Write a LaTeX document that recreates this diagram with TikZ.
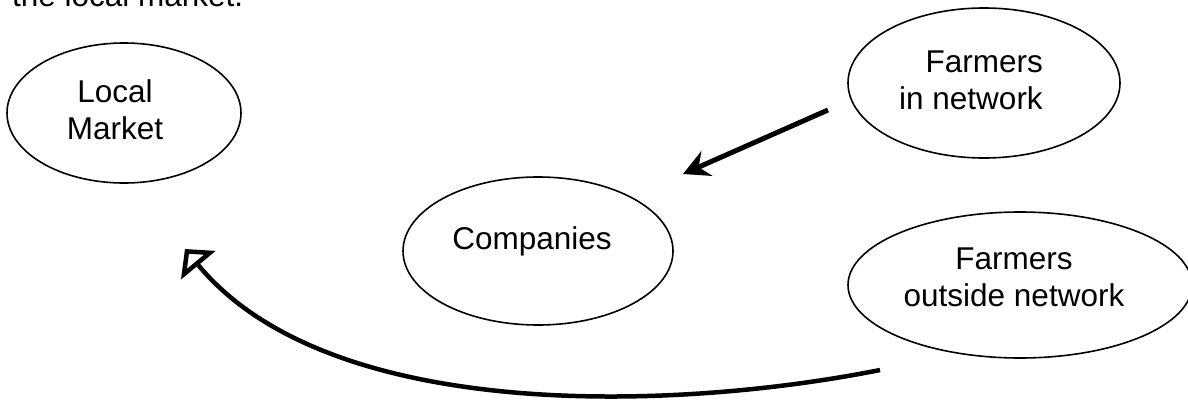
\documentclass[tikz,border=0pt]{standalone}
\usepackage{fontspec}
\setmainfont{Liberation Sans}
\usetikzlibrary{shapes.geometric,arrows.meta}
\begin{document}
\begin{tikzpicture}[x=1pt,y=-1pt,
  ell/.style={draw, ellipse, line width=1.6pt, inner sep=0pt},
  lbl/.style={inner sep=0pt, font=\fontsize{31.5}{37}\selectfont},
  fillarrow/.style={line width=5pt, -{Stealth[length=26pt, width=27pt, inset=9pt]}},
  openarrow/.style={line width=4.5pt, -{Triangle[open, length=21pt, width=44pt]}}
]
\useasboundingbox (0,0) rectangle (1188,399);
% caption fragment cut at the top
\node[lbl, anchor=base west] (cap) at (12,6) {the local market.};
% ellipses
\node[ell, minimum width=234pt, minimum height=140pt] (lm) at (124,113) {};
\node[lbl, align=center] (lmT) at (115,110) {Local\\Market};
\node[ell, minimum width=272pt, minimum height=150pt] (fin) at (984,83) {};
\node[lbl, align=right] (finT) at (971,80) {Farmers\\in network};
\node[ell, minimum width=270pt, minimum height=148pt] (co) at (538,251) {};
\node[lbl] (coT) at (532,241) {Companies};
\node[ell, minimum width=344pt, minimum height=146pt] (fout) at (1020,285) {};
\node[lbl, align=center] (foutT) at (1014,277) {Farmers\\outside network};
% connectors
\coordinate (a1s) at (828,110);
\coordinate (a1e) at (683,174);
\draw[fillarrow] (a1s) -- (a1e);
\coordinate (a2s) at (880,370);
\coordinate (a2e) at (185,249);
\draw[openarrow] (a2s) .. controls (680,410) and (330,425) .. (a2e);
\end{tikzpicture}
\end{document}
